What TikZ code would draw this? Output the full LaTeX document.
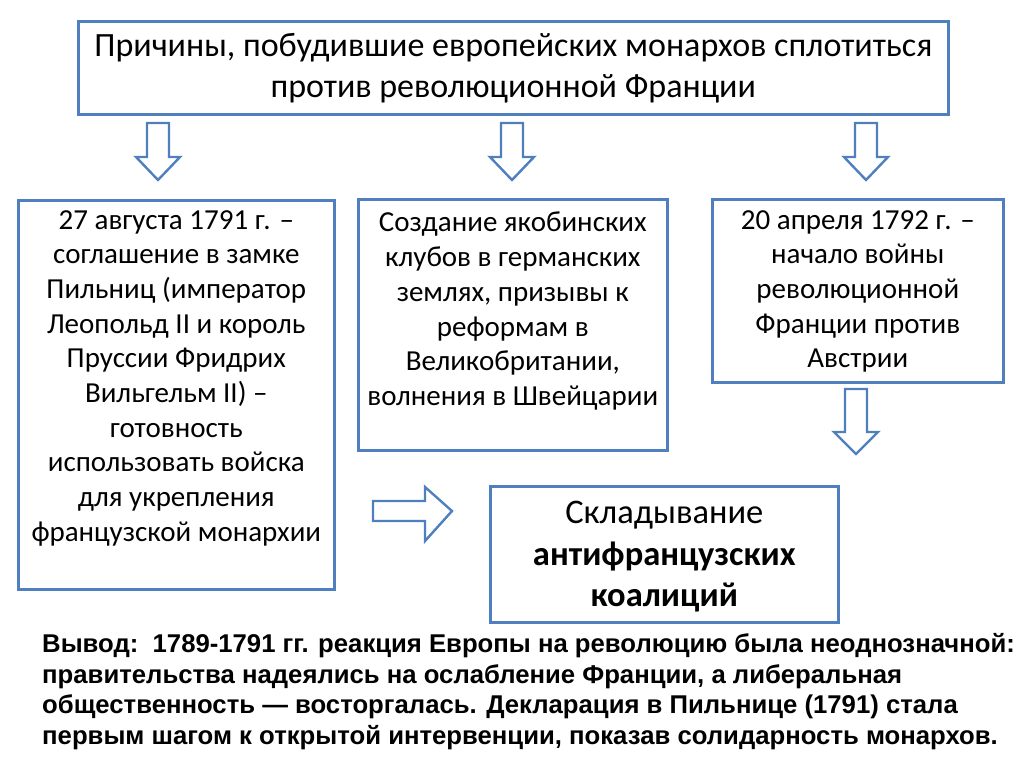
\documentclass[tikz,border=0pt]{standalone}
\usepackage{fontspec}
\setmainfont{Carlito}
\newfontfamily\arialfont{Liberation Sans}
\usetikzlibrary{positioning}
\definecolor{boxblue}{HTML}{4F7FBE}
\tikzset{
  box/.style={draw=boxblue,line width=2.6pt,fill=white,inner sep=0pt,anchor=north west},
  boxtext/.style={inner sep=0pt,anchor=north,align=center,font=\fontsize{29}{34.7}\selectfont},
  hollow/.style={draw=boxblue,line width=2.4pt,fill=white,line join=miter}
}
% block arrow pointing down: centre x, top y, tip y, head start y
\newcommand\blockdown[4]{%
  \draw[hollow] (#1-11,#2) -- (#1+11,#2) -- (#1+11,#4) -- (#1+22,#4) -- (#1,#3)
    -- (#1-22,#4) -- (#1-11,#4) -- cycle;}
\begin{document}
\begin{tikzpicture}[x=1pt,y=-1pt]
  \useasboundingbox (0,0) rectangle (1024,767);
  % boxes
  \node[box,minimum width=870pt,minimum height=93pt] (causes) at (77,20) {};
  \node[box,minimum width=316pt,minimum height=389pt] (pilnitz) at (17,199) {};
  \node[box,minimum width=309pt,minimum height=251pt] (clubs) at (357,198) {};
  \node[box,minimum width=291pt,minimum height=183pt] (war) at (711,198) {};
  \node[box,minimum width=348pt,minimum height=136pt] (coalition) at (489,485) {};
  % texts
  \node[boxtext,font=\fontsize{34}{41}\selectfont,below=13pt of causes.north] (causestext)
    {Причины, побудившие европейских монархов сплотиться\\против революционной Франции};
  \node[boxtext,below=11pt of pilnitz.north] (pilnitztext)
    {27 августа 1791 г. –\\соглашение в замке\\Пильниц (император\\Леопольд II и король\\Пруссии Фридрих\\Вильгельм II) –\\готовность\\использовать войска\\для укрепления\\французской монархии};
  \node[boxtext,below=14pt of clubs.north] (clubstext)
    {Создание якобинских\\клубов в германских\\землях, призывы к\\реформам в\\Великобритании,\\волнения в Швейцарии};
  \node[boxtext,below=12pt of war.north] (wartext)
    {20 апреля 1792 г. –\\начало войны\\революционной\\Франции против\\Австрии};
  \node[boxtext,font=\fontsize{34.5}{41.5}\selectfont,below=16pt of coalition.north] (coalitiontext)
    {Складывание\\\textbf{антифранцузских}\\\textbf{коалиций}};
  % arrows
  \blockdown{158}{123}{180}{157}
  \blockdown{512}{123}{180}{157}
  \blockdown{866}{123}{180}{157}
  \blockdown{856}{389}{454}{432}
  \draw[hollow] (373,501) -- (425,501) -- (425,487) -- (452,511) -- (425,541)
    -- (425,521) -- (373,521) -- cycle;
  % conclusion
  \node[inner sep=0pt,anchor=north west,align=left,
    font=\arialfont\bfseries\fontsize{25.7}{30.8}\selectfont] (conclusion) at (42,633)
    {Вывод:\ \ 1789-1791 гг. реакция Европы на революцию была неоднозначной:\\
     правительства надеялись на ослабление Франции, а либеральная\\
     общественность — восторгалась. Декларация в Пильнице (1791) стала\\
     первым шагом к открытой интервенции, показав солидарность монархов.};
\end{tikzpicture}
\end{document}
